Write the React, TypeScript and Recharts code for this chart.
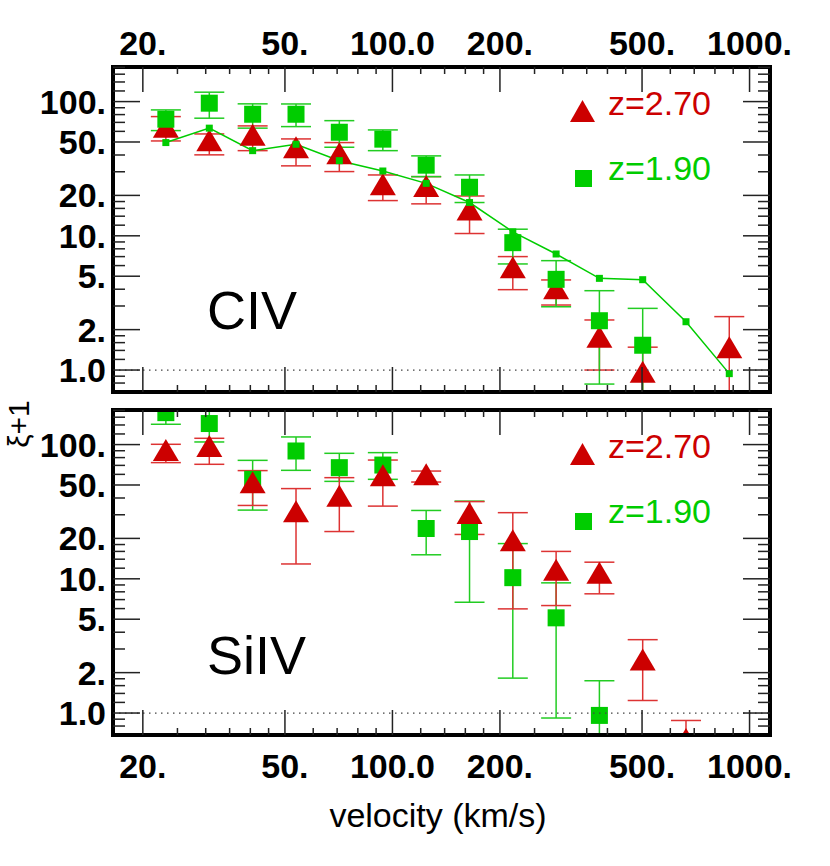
import React from 'react';
import { ComposedChart, XAxis, YAxis, Scatter, Line, ErrorBar, ReferenceLine } from 'recharts';

// velocity bins (km/s)
const velocity = [23.2, 30.7, 40.6, 53.7, 71.0, 94.0, 124.3, 164.4, 217.3, 287.3, 379.8, 502.1, 663.8, 877.5];

// CIV, z=2.70
const civRedV = [23.2, 30.7, 40.6, 53.7, 71.0, 94.0, 124.3, 164.4, 217.3, 287.3, 379.8, 502.1, 877.5];
const civRed = [65, 51.5, 56.5, 45.6, 41.2, 24.2, 23.5, 15.7, 5.83, 4.06, 1.77, 0.97, 1.48];
const civRedHi = [77.3, 57.4, 65.9, 52.7, 49.5, 28.4, 27.6, 19.8, 7.0, 4.69, 2.36, 1.48, 2.5];
const civRedLo = [50.9, 40.1, 43.1, 33.2, 30.1, 18.3, 17.3, 10.4, 3.97, 3.05, 1.0, 0.5, 0.5];

// CIV, z=1.90
const civGreenV = velocity.slice(0, 12);
const civGreen = [73.9, 97.3, 80.5, 80.5, 59.1, 52.5, 33.6, 23.0, 8.89, 4.74, 2.33, 1.53];
const civGreenHi = [86.7, 117.5, 96.2, 96.0, 72.1, 61.5, 39.4, 28.4, 11.2, 6.53, 3.9, 2.88];
const civGreenLo = [60.8, 75.2, 63.4, 65.1, 45.7, 43.1, 27.6, 17.7, 6.17, 2.96, 0.786, 0.5];

// CIV model curve
const civModel = [49.5, 63.4, 43.1, 48.1, 36.3, 30.4, 24.6, 17.7, 10.7, 7.32, 4.82, 4.71, 2.29, 0.94];

// SiIV, z=2.70
const siRedV = velocity.slice(0, 13);
const siRed = [91.1, 97.6, 52.3, 31.8, 41.6, 59.0, 60.0, 30.9, 19.4, 11.7, 11.1, 2.5, 0.64];
const siRedHi = [100.5, 111.4, 64.0, 47.0, 56.7, 76.7, 63.5, 37.6, 31.1, 16.0, 13.3, 3.52, 0.88];
const siRedLo = [73.4, 71.3, 35.2, 12.9, 22.5, 34.8, 52.6, 21.4, 5.97, 6.32, 7.73, 1.24, 0.4];

// SiIV, z=1.90
const siGreenV = velocity.slice(0, 11);
const siGreen = [173, 143.5, 55.1, 89.6, 67.3, 70.4, 23.7, 22.5, 10.2, 5.12, 0.96];
const siGreenHi = [220, 190, 76.3, 114, 86.1, 87.1, 32.3, 37.9, 18.3, 9.33, 1.74];
const siGreenLo = [141.7, 104.6, 32.5, 64.3, 53.2, 55.1, 15.1, 6.69, 1.82, 0.918, 0.5];

const xTicks = [20, 25, 30, 35, 40, 45, 50, 60, 70, 80, 90, 100, 120, 140, 160, 180, 200, 250, 300, 350, 400, 450, 500, 600, 700, 800, 900, 1000];
const xLabels: Record<string, string> = { 20: '20.', 50: '50.', 100: '100.0', 200: '200.', 500: '500.', 1000: '1000.' };
const yTicks = [0.8, 0.9, 1, 1.2, 1.4, 1.6, 1.8, 2, 3, 4, 5, 6, 7, 8, 9, 10, 12, 14, 16, 18, 20, 30, 40, 50, 60, 70, 80, 90, 100, 120, 140, 160, 180];
const yLabels: Record<string, string> = { 1: '1.0', 2: '2.', 5: '5.', 10: '10.', 20: '20.', 50: '50.', 100: '100.' };

const X_DOMAIN = [16.5, 1141];
const Y_DOMAIN = [0.686, 181];

const RED = '#cc0000';
const GREEN = '#00cc00';
const FONT = '"Liberation Sans", Arial, Helvetica, sans-serif';
const frame = { stroke: '#000', strokeWidth: 4, strokeLinecap: 'square' as const };

const rows = (v: number[], y: number[], lo: number[], hi: number[]) =>
  v.map((x, i) => ({ v: x, y: y[i], err: [y[i] - lo[i], hi[i] - y[i]] }));

const civRedRows = rows(civRedV, civRed, civRedLo, civRedHi);
const civGreenRows = rows(civGreenV, civGreen, civGreenLo, civGreenHi);
const civModelRows = velocity.map((v, i) => ({ v, y: civModel[i] }));
const siRedRows = rows(siRedV, siRed, siRedLo, siRedHi);
const siGreenRows = rows(siGreenV, siGreen, siGreenLo, siGreenHi);

const xTick = (side: 'top' | 'bottom', labelDy: number | null) => (props: any) => {
  const { x, y, payload } = props;
  const label = xLabels[String(payload.value)];
  const len = label ? 25 : 7;
  const dir = side === 'top' ? 1 : -1;
  return (
    <g>
      <line x1={x} x2={x} y1={y} y2={y + dir * len} stroke="#222" strokeWidth={1.5} />
      {labelDy !== null && label && (
        <text x={x} y={y + labelDy} textAnchor="middle" fontFamily={FONT} fontWeight="bold" fontSize={34} fill="#000">
          {label}
        </text>
      )}
    </g>
  );
};

const yTick = (side: 'left' | 'right', showLabel: boolean) => (props: any) => {
  const { x, y, payload } = props;
  const label = yLabels[String(payload.value)];
  const len = label ? 27 : 12;
  const dir = side === 'left' ? 1 : -1;
  return (
    <g>
      <line x1={x} x2={x + dir * len} y1={y} y2={y} stroke="#222" strokeWidth={1.5} />
      {showLabel && label && (
        <text x={x - 7} y={y + 12} textAnchor="end" fontFamily={FONT} fontWeight="bold" fontSize={34} fill="#000">
          {label}
        </text>
      )}
    </g>
  );
};

const Triangle = (p: any) => {
  const { cx, cy } = p;
  return <polygon points={`${cx},${cy - 11} ${cx + 13},${cy + 11} ${cx - 13},${cy + 11}`} fill={RED} />;
};
const Square = (p: any) => <rect x={p.cx - 8.5} y={p.cy - 8.5} width={17} height={17} fill={GREEN} />;
const SmallSquare = (p: any) => (
  <rect key={`m${p.index}`} x={p.cx - 3.5} y={p.cy - 3.5} width={7} height={7} fill={GREEN} />
);

// the four axes of a panel; visible=false gives the same scales with nothing drawn
const axes = (labels: 'top' | 'bottom', topH: number, bottomH: number, visible: boolean) => {
  const other = labels === 'top' ? 'bottom' : 'top';
  const common = {
    type: 'number' as const, scale: 'log' as const, allowDataOverflow: true, interval: 0,
    tickSize: 0, tickMargin: 0, tickLine: false, axisLine: visible ? frame : false,
  };
  return [
    <XAxis key="x" xAxisId="x" dataKey="v" domain={X_DOMAIN} orientation={labels} {...common}
      height={labels === 'top' ? topH : bottomH} ticks={xTicks}
      tick={visible ? xTick(labels, labels === 'top' ? -12 : 43) : false} />,
    <XAxis key="x2" xAxisId="x2" dataKey="v" domain={X_DOMAIN} orientation={other} {...common}
      height={other === 'top' ? topH : bottomH} ticks={xTicks}
      tick={visible ? xTick(other, null) : false} />,
    <YAxis key="y" yAxisId="y" dataKey="y" domain={Y_DOMAIN} orientation="left" width={113} {...common}
      ticks={yTicks} tick={visible ? yTick('left', true) : false} />,
    <YAxis key="y2" yAxisId="y2" dataKey="y" domain={Y_DOMAIN} orientation="right" width={60} {...common}
      ticks={yTicks} tick={visible ? yTick('right', false) : false} />,
  ];
};

function Panel({ top, height, topH, bottomH, labels, children }: any) {
  const margin = { top: 0, right: 0, bottom: 0, left: 0 };
  return (
    <div style={{ position: 'absolute', left: 0, top, width: 830, height }}>
      <div style={{ position: 'absolute', left: 0, top: 0, clipPath: `inset(${topH}px 60px ${bottomH}px 113px)` }}>
        <ComposedChart width={830} height={height} margin={margin}>
          {axes(labels, topH, bottomH, false)}
          {children}
        </ComposedChart>
      </div>
      <div style={{ position: 'absolute', left: 0, top: 0 }}>
        <ComposedChart width={830} height={height} margin={margin}>
          {axes(labels, topH, bottomH, true)}
          <ReferenceLine xAxisId="x" yAxisId="y" y={1} stroke="#444" strokeWidth={1.2} strokeDasharray="1.5 4.5" />
        </ComposedChart>
      </div>
    </div>
  );
}

const redSeries = (data: any[]) => (
  <Scatter key="red" xAxisId="x" yAxisId="y" data={data} dataKey="y" shape={Triangle} isAnimationActive={false}>
    <ErrorBar dataKey="err" direction="y" width={15} stroke="#dd3333" strokeWidth={1.5} />
  </Scatter>
);
const greenSeries = (data: any[]) => (
  <Scatter key="green" xAxisId="x" yAxisId="y" data={data} dataKey="y" shape={Square} isAnimationActive={false}>
    <ErrorBar dataKey="err" direction="y" width={15} stroke="#22cc22" strokeWidth={1.5} />
  </Scatter>
);

function Legend({ dy }: { dy: number }) {
  return (
    <g>
      <polygon points={`582.5,${100 + dy} 595,${122 + dy} 570,${122 + dy}`} fill={RED} />
      <text x={608} y={115 + dy} fontFamily={FONT} fontSize={34} fill={RED}>z=2.70</text>
      <rect x={575} y={170 + dy} width={17} height={17} fill={GREEN} />
      <text x={608} y={180 + dy} fontFamily={FONT} fontSize={34} fill={GREEN}>z=1.90</text>
    </g>
  );
}

export default function App() {
  return (
    <div style={{ position: 'absolute', left: 0, top: 0, width: 830, height: 866, background: '#fff', overflow: 'hidden' }}>
      <Panel top={0} height={400} topH={67} bottomH={8} labels="top">
        {redSeries(civRedRows)}
        {greenSeries(civGreenRows)}
        <Line xAxisId="x" yAxisId="y" data={civModelRows} dataKey="y" stroke={GREEN} strokeWidth={1.5}
          dot={SmallSquare} isAnimationActive={false} />
      </Panel>
      <Panel top={400} height={466} topH={10} bottomH={131} labels="bottom">
        {greenSeries(siGreenRows)}
        {redSeries(siRedRows)}
      </Panel>
      <svg width={830} height={866} style={{ position: 'absolute', left: 0, top: 0, pointerEvents: 'none' }}>
        <Legend dy={0} />
        <Legend dy={343} />
        <text x={207} y={329} fontFamily={FONT} fontSize={54} fill="#000">CIV</text>
        <text x={207} y={674} fontFamily={FONT} fontSize={54} fill="#000">SiIV</text>
        <text x={438} y={827} textAnchor="middle" fontFamily={FONT} fontSize={34} fill="#000">velocity (km/s)</text>
        <text x={29} y={424} transform="rotate(-90, 29, 424)" textAnchor="middle" fontFamily={FONT} fontSize={30} fill="#000">ξ+1</text>
      </svg>
    </div>
  );
}
